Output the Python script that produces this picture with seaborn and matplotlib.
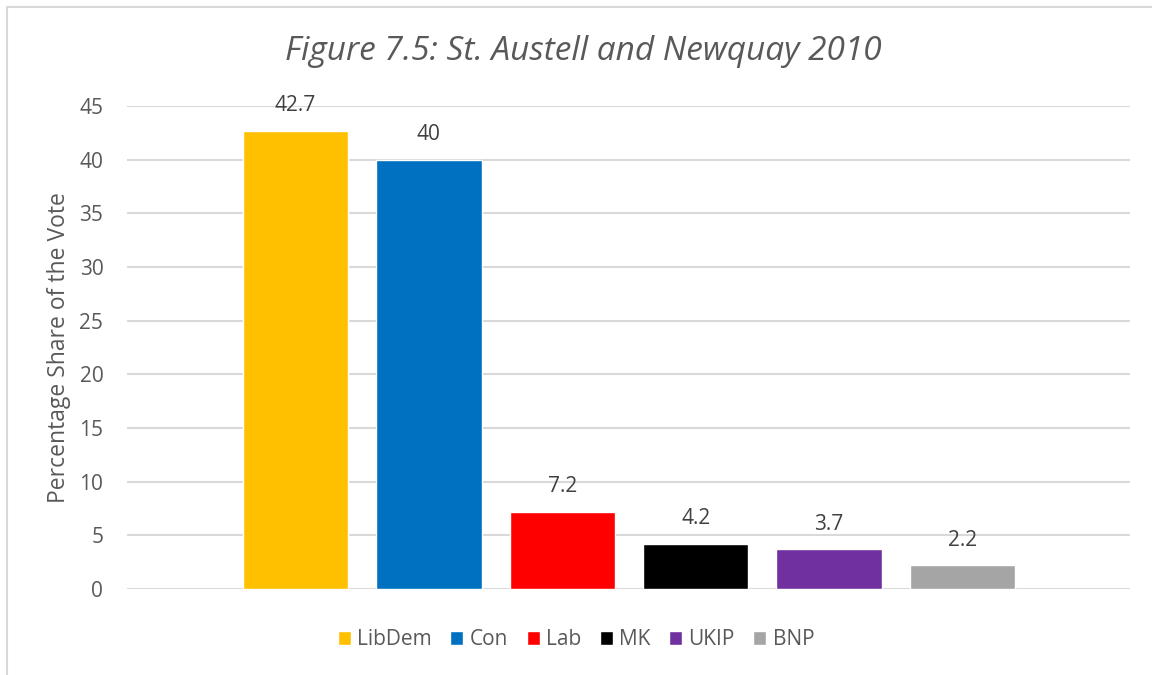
import matplotlib
matplotlib.use("Agg")
import matplotlib.pyplot as plt
from matplotlib.lines import Line2D
from matplotlib.patches import Patch
import seaborn as sns
import pandas as pd

# Data
parties = ["LibDem", "Con", "Lab", "MK", "UKIP", "BNP"]
vote_share = [42.7, 40, 7.2, 4.2, 3.7, 2.2]
vote_labels = ["42.7", "40", "7.2", "4.2", "3.7", "2.2"]
colours = ["#FFC000", "#0070C0", "#FF0000", "#000000", "#7030A0", "#A5A5A5"]

df = pd.DataFrame({"Party": parties, "Share": vote_share})

sns.set_style("white")
plt.rcParams["font.family"] = ["Open Sans", "DejaVu Sans"]

fig = plt.figure(figsize=(11.52, 6.75), dpi=100)
ax = fig.add_axes([0.1102, 0.1274, 0.8707, 0.7156])

sns.barplot(data=df, x="Party", y="Share", hue="Party", palette=colours,
            width=0.79, dodge=False, legend=False, ax=ax, saturation=1)

# data labels above the bars
for i, v in enumerate(vote_share):
    ax.annotate(vote_labels[i], (i, v), xytext=(0, 18), textcoords="offset points",
                ha="center", va="center", fontsize=15, color="#404040",
                annotation_clip=False)

ax.set_ylim(0, 45)
ax.set_xlim(-1.263, 6.256)
ax.set_yticks(range(0, 46, 5))
ax.yaxis.grid(True, color="#D9D9D9", linewidth=1.5)
ax.set_axisbelow(True)
for s in ax.spines.values():
    s.set_visible(False)
ax.set_xticks([])
ax.set_xlabel("")
ax.set_ylabel("Percentage Share of the Vote", fontsize=16.5, color="#595959", labelpad=6)
ax.tick_params(axis="y", labelsize=15, labelcolor="#595959", length=0, pad=17)

fig.text(0.506, 0.924, "Figure 7.5: St. Austell and Newquay 2010", ha="center",
         va="center", fontsize=24, style="italic", color="#595959")

handles = [Patch(facecolor=c, label=p) for p, c in zip(parties, colours)]
fig.legend(handles=handles, loc="center", bbox_to_anchor=(0.5, 0.052), ncol=6,
           frameon=False, fontsize=15, handlelength=0.62, handleheight=0.62,
           handletextpad=0.3, columnspacing=0.9, labelcolor="#595959")

# chart frame
fig.add_artist(Line2D([7 / 1152, 7 / 1152], [0, 1 - 7 / 675], color="#D9D9D9", linewidth=1.5))
fig.add_artist(Line2D([7 / 1152, 1], [1 - 7 / 675, 1 - 7 / 675], color="#D9D9D9", linewidth=1.5))

plt.savefig("out.png", dpi=100)
